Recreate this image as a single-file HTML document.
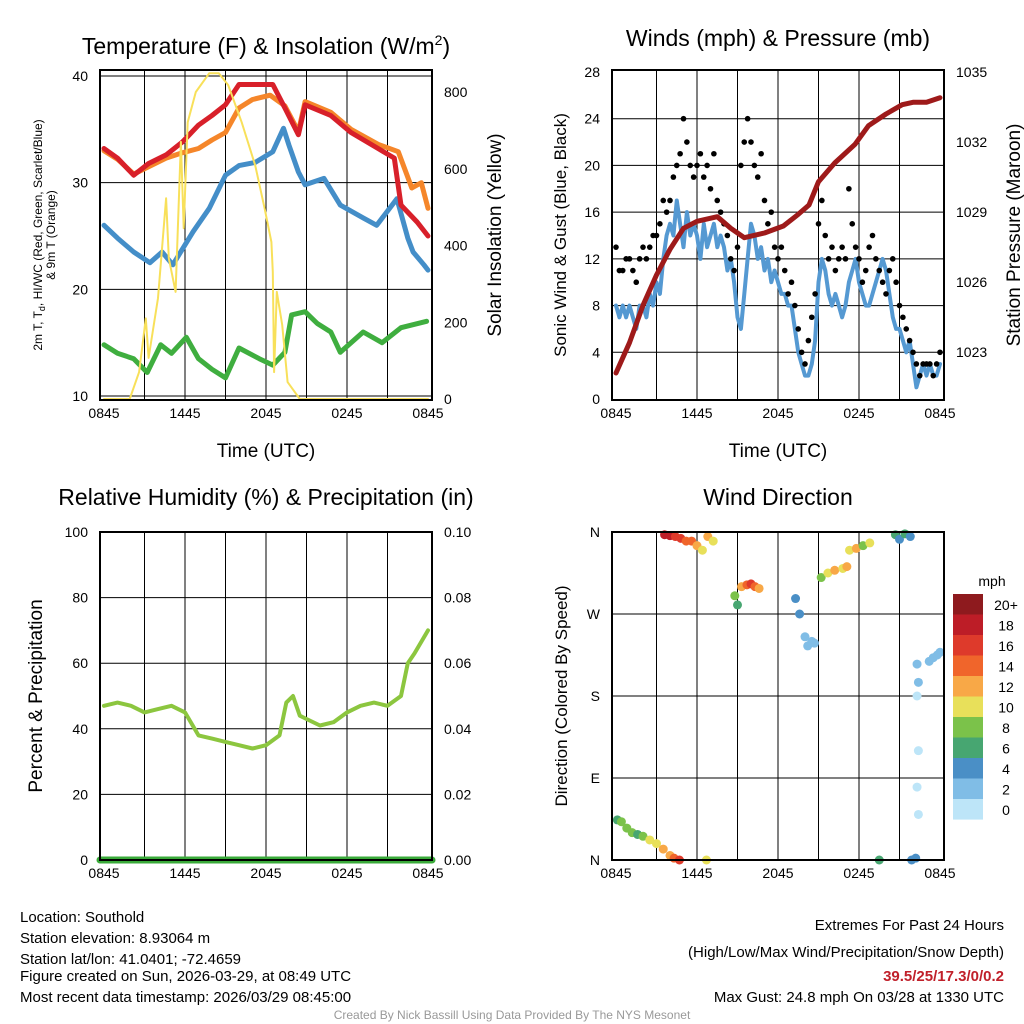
<!DOCTYPE html>
<html><head><meta charset="utf-8"><style>
body{margin:0;background:#fff;}
svg{display:block;font-family:"Liberation Sans",sans-serif;}
</style></head><body>
<svg id="c" width="1024" height="1024" viewBox="0 0 1024 1024" xmlns="http://www.w3.org/2000/svg">
<g id="txt">
<text x="266" y="54" font-size="23" text-anchor="middle">Temperature (F) &amp; Insolation (W/m<tspan font-size="14" dy="-9">2</tspan><tspan dy="9">)</tspan></text>
<text x="778" y="46" font-size="23" text-anchor="middle">Winds (mph) &amp; Pressure (mb)</text>
<text x="266" y="505" font-size="23" text-anchor="middle">Relative Humidity (%) &amp; Precipitation (in)</text>
<text x="778" y="505" font-size="23" text-anchor="middle">Wind Direction</text>
<text x="266" y="457" font-size="19" text-anchor="middle">Time (UTC)</text>
<text x="778" y="457" font-size="19" text-anchor="middle">Time (UTC)</text>
<g transform="translate(42,235) rotate(-90)"><text x="0" y="0" font-size="12" text-anchor="middle">2m T, T<tspan font-size="9" dy="3">d</tspan><tspan dy="-3">, HI/WC (Red, Green, Scarlet/Blue)</tspan></text><text x="0" y="13" font-size="12" text-anchor="middle">&amp; 9m T (Orange)</text></g>
<text transform="translate(501,235) rotate(-90)" font-size="19" text-anchor="middle">Solar Insolation (Yellow)</text>
<text transform="translate(566,235) rotate(-90)" font-size="17" text-anchor="middle">Sonic Wind &amp; Gust (Blue, Black)</text>
<text transform="translate(1020,235) rotate(-90)" font-size="19" text-anchor="middle">Station Pressure (Maroon)</text>
<text transform="translate(42,696) rotate(-90)" font-size="19" text-anchor="middle">Percent &amp; Precipitation</text>
<text transform="translate(567,696) rotate(-90)" font-size="17" text-anchor="middle">Direction (Colored By Speed)</text>
<g font-size="15">
<text x="20" y="922">Location: Southold</text>
<text x="20" y="943">Station elevation: 8.93064 m</text>
<text x="20" y="964">Station lat/lon: 41.0401; -72.4659</text>
<text x="20" y="981">Figure created on Sun, 2026-03-29, at 08:49 UTC</text>
<text x="20" y="1002">Most recent data timestamp: 2026/03/29 08:45:00</text>
</g>
<g font-size="15" text-anchor="end">
<text x="1004" y="930">Extremes For Past 24 Hours</text>
<text x="1004" y="957">(High/Low/Max Wind/Precipitation/Snow Depth)</text>
<text x="1004" y="981" fill="#c0202a" font-weight="bold">39.5/25/17.3/0/0.2</text>
<text x="1004" y="1002">Max Gust: 24.8 mph On 03/28 at 1330 UTC</text>
</g>
<text x="512" y="1019" font-size="12" fill="#999" text-anchor="middle">Created By Nick Bassill Using Data Provided By The NYS Mesonet</text>
<text x="992" y="586" font-size="14" text-anchor="middle">mph</text>
</g>
<g id="plots"></g>
</svg>
<script>
// ---------- data ----------
const xTickLabels = ["0845","1445","2045","0245","0845"];
const tRed = [0,1,2.2,3.3,4.6,5.8,7,8,9,10,11.5,12.5,13.4,14.4,14.9,16.8,18.3,20.3,21.5,22,23.2,24];
const redT = [33.2,32.3,30.7,31.8,32.6,33.8,35.4,36.3,37.3,39.2,39.2,39.2,37,34.5,37.3,36.3,34.7,33.2,32.3,27.9,26.3,25];
const tOrange = [0,1,2.2,3.3,4.6,5.8,7,8,9,10,11,12.3,13.4,14.4,14.9,16.8,18.3,20.3,21.8,22.8,23.5,24];
const orangeT = [33,32.2,30.8,31.5,32.3,32.8,33.2,34,34.7,37,37.8,38.2,37.2,34.8,37.6,36.6,35,33.6,32.9,29.5,30,27.6];
const tBlue = [0,1,2.2,3.4,4.3,5.1,6.6,7.8,9,10,11.2,12.5,13.3,13.7,14.4,14.9,16.3,17.5,19.2,20.2,21.7,22.5,22.9,23.7,24];
const blueT = [26,24.8,23.5,22.5,23.5,22.3,25.4,27.6,30.7,31.6,31.9,32.9,35.1,33.5,31,29.8,30.4,27.9,26.7,26,28.5,24.8,23.5,22.3,21.8];
const tGreen = [0,1,2.2,3.2,4.2,5,6.1,7,8,9,10,11.5,12.5,13.4,13.9,14.9,15.8,16.8,17.5,19.2,20.6,22,23.9];
const greenT = [14.8,14,13.5,12.2,14.8,14,15.5,13.5,12.5,11.7,14.5,13.5,12.9,14.1,17.6,17.9,16.8,16,14.1,16,15,16.4,17];
const tSolar = [0,1.9,2.6,3.1,3.3,4,4.6,4.8,5.3,5.7,5.9,6.2,6.8,7.8,8.5,9.2,10.2,11.2,11.9,12.4,12.5,12.6,12.8,13.2,13.6,14.5,24];
const solar = [0,0,70,210,107,263,523,367,279,670,445,721,800,849,849,818,721,609,497,409,331,70,279,193,44,0,0];
const tQuarter = [];
for(let i=0;i<=96;i++) tQuarter.push(i/4);
const wind = [8,7,8,7, 8,7,6,8, 8,7,9,8, 10,9,12,14, 15,14,17,15, 13,16,14,15, 14,12,15,13, 14,15,13,14, 13,11,12,10, 7,6,9,12, 15,14,12,13, 11,12,10,11, 10,9,9,8, 8,6,4,3, 2,2,3,5, 10,12,11,9, 8,9,8,7, 8,10,11,12, 10,9,8,8, 9,10,11,12, 11,9,7,6, 6,5,4,5, 3,1,2,3, 2,3,2,2, 3];
const gust = [13,11,11,12, 12,11,10,12, 13,12,13,14, 14,15,17,16, 17,19,20,21, 24,22,20,19, 20,21,19,20, 18,21,17,16, 15,14,12,11, 13,20,22,24, 22,20,19,21, 17,15,16,13, 12,13,11,9, 10,8,6,4, 3,5,7,9, 15,17,14,12, 13,11,12,13, 12,18,15,13, 12,10,11,13, 14,12,11,10, 9,11,12,10, 8,7,6,5, 4,3,2,3, 3,3,2,3, 4];
const tPres = [0,1,2,3,4,5,6,7.5,8.5,9.5,11,12.4,13.5,14.3,15,16.2,17.7,18.7,20,21.2,22,23,24];
const pressure = [1022.1,1023.4,1025,1026.3,1027.4,1028.3,1028.6,1028.8,1028.3,1027.9,1028.1,1028.4,1028.9,1029.3,1030.3,1031.1,1031.9,1032.7,1033.2,1033.6,1033.7,1033.7,1033.9];
const tRH = [0,1,2,3,4,5,6,7,8,9,10,11,12,13,13.5,14,14.5,15,16,17,18,19,20,21,22,22.5,23,24];
const rh = [47,48,47,45,46,47,45,38,37,36,35,34,35,38,48,50,44,43,41,42,45,47,48,47,50,60,63,70];
const precip = [0,0];
const tDir = [0.1,0.4,0.8,1.2,1.6,2,2.5,3,3.5,4,4.3,4.7, 3.6,4,4.4,4.8,5.2,5.6,6,6.4,6.8,7.2,6.7, 8.8,9,9.3,9.7,10,10.3,10.6, 13.3,13.6,14,14.2,14.5,14.7, 15.2,15.7,16.2,16.8,17.1, 17.3,17.8,18.3,18.8,19.5, 20.7,21,21.4,21.8,21.9, 22.3,22.4,22.3,22.4,22.3,22.4,22.2, 23.2,23.5,23.8,24];
const dirDeg = [44,42,35,30,28,26,22,18,12,5,2,0, 357,356,355,353,350,350,345,340,355,350,0, 290,280,300,302,303,300,298, 287,270,245,235,240,238, 310,315,318,320,322, 340,342,345,348,0, 357,352,358,355,0, 215,195,180,120,80,50,2, 218,222,225,228];
const dirSpd = [6,8,8,8,6,8,10,10,12,12,14,16, 18,18,16,16,14,14,12,10,12,10,10, 8,6,12,14,16,14,12, 4,4,2,2,2,2, 8,10,12,10,12, 10,12,8,10,6, 6,4,6,4,4, 2,2,0,0,0,0,4, 2,2,2,2];
const cbLabels = ["20+","18","16","14","12","10","8","6","4","2","0"];
const cbColors = ["#8e1a1e","#bd1d27","#de3a2b","#f0652b","#f8a847","#e8e05a","#7bc24a","#47a671","#4a8fc6","#80bde6","#bde5f8"];

// ---------- helpers ----------
const NS="http://www.w3.org/2000/svg";
const root=document.getElementById('plots');
function mk(tag,attrs,parent){const e=document.createElementNS(NS,tag);for(const k in attrs)e.setAttribute(k,attrs[k]);(parent||root).appendChild(e);return e;}
function panel(x0,y0,x1,y1,name){
  const g=mk('g',{});
  
  
  const X=t=>x0+4+t*(x1-x0-8)/24;
  for(let i=1;i<8;i++){const l=mk('line',{x1:X(i*3),x2:X(i*3),y1:y0,y2:y1,stroke:'#000','stroke-width':1},g);
    }
  xTickLabels.forEach((s,i)=>{const t=mk('text',{x:X(i*6),y:y1+18,'font-size':14,'text-anchor':'middle'},g);t.textContent=s;
    });
  return {g,X};
}
function hgrid(g,x0,x1,y){const l=mk('line',{x1:x0,x2:x1,y1:y,y2:y,stroke:'#000','stroke-width':1},g);
  }
function lbl(g,x,y,s,anchor,name){const t=mk('text',{x:x,y:y+5,'font-size':14,'text-anchor':anchor},g);t.textContent=s;
  }
function line(g,ts,vs,X,Y,color,w,name){const d=ts.map((t,i)=>(i?'L':'M')+X(t).toFixed(1)+','+Y(vs[i]).toFixed(1)).join('');
  const p=mk('path',{d:d,fill:'none',stroke:color,'stroke-width':w,'stroke-linejoin':'round','stroke-linecap':'round'},g);
  }
function box(g,x0,y0,x1,y1){const r=mk('rect',{x:x0,y:y0,width:x1-x0,height:y1-y0,fill:'none',stroke:'#000','stroke-width':2},g);
  }

// ---------- panel 1: temperature ----------
(function(){
  const x0=100,x1=432,y0=70,y1=400;
  const {g,X}=panel(x0,y0,x1,y1,'temperature-panel');
  const Y=v=>396-(v-10)*(320/30);
  const Ys=v=>399-v*(307/800);
  [10,20,30,40].forEach(v=>{hgrid(g,x0,x1,Y(v));lbl(g,x0-12,Y(v),String(v),'end','temp-y-tick');});
  [0,200,400,600,800].forEach(v=>lbl(g,x1+12,Ys(v),String(v),'start','solar-y-tick'));
  line(g,tGreen,greenT,X,Y,'#3fae3f',5,'dewpoint-line');
  line(g,tBlue,blueT,X,Y,'#448ec8',5,'wetbulb-line');
  line(g,tOrange,orangeT,X,Y,'#f5862a',5,'temp-9m-line');
  line(g,tRed,redT,X,Y,'#d8202a',5,'temp-2m-line');
  line(g,tSolar,solar,X,Ys,'#f8e05a',2,'solar-line');
  box(g,x0,y0,x1,y1);
})();

// ---------- panel 2: winds ----------
(function(){
  const x0=612,x1=944,y0=70,y1=400;
  const {g,X}=panel(x0,y0,x1,y1,'wind-panel');
  const Y=v=>399-v*(327/28);
  const Yp=v=>352-(v-1023)*(280/12);
  [0,4,8,12,16,20,24,28].forEach(v=>{if(v>0&&v<28)hgrid(g,x0,x1,Y(v));lbl(g,x0-12,Y(v),String(v),'end','wind-y-tick');});
  [1023,1026,1029,1032,1035].forEach(v=>lbl(g,x1+12,Yp(v),String(v),'start','pressure-y-tick'));
  line(g,tQuarter,wind,X,Y,'#5599d2',4,'sonic-wind-line');
  tQuarter.forEach((t,i)=>{const c=mk('circle',{cx:X(t),cy:Y(gust[i]),r:2.8,fill:'#000'},g);
    });
  line(g,tPres,pressure,X,Yp,'#9e1a1a',5,'pressure-line');
  box(g,x0,y0,x1,y1);
})();

// ---------- panel 3: RH ----------
(function(){
  const x0=100,x1=432,y0=532,y1=860;
  const {g,X}=panel(x0,y0,x1,y1,'humidity-panel');
  const Y=v=>860-v*3.28;
  const Yp=v=>860-v*3280;
  [0,20,40,60,80,100].forEach(v=>{if(v>0&&v<100)hgrid(g,x0,x1,Y(v));lbl(g,x0-12,Y(v),String(v),'end','rh-y-tick');});
  [0,0.02,0.04,0.06,0.08,0.10].forEach(v=>lbl(g,x1+12,Yp(v),v.toFixed(2),'start','precip-y-tick'));
  line(g,[0,24],precip,t=>t===0?x0:x1,Yp,'#3aaa3a',7,'precip-line');
  line(g,tRH,rh,X,Y,'#8cc63f',4,'rh-line');
  box(g,x0,y0,x1,y1);
})();

// ---------- panel 4: wind direction ----------
(function(){
  const x0=612,x1=944,y0=532,y1=860;
  const {g,X}=panel(x0,y0,x1,y1,'direction-panel');
  const Y=v=>860-v*(328/360);
  [['N',0],['E',90],['S',180],['W',270],['N',360]].forEach(([s,v])=>{if(v>0&&v<360)hgrid(g,x0,x1,Y(v));lbl(g,x0-12,Y(v),s,'end','dir-y-tick');});
  const col=s=>cbColors[10-Math.min(10,Math.floor(s/2))];
  tDir.forEach((t,i)=>{const c=mk('circle',{cx:X(t),cy:Y(dirDeg[i]),r:4.5,fill:col(dirSpd[i])},g);
    });
  box(g,x0,y0,x1,y1);
  const cb=mk('g',{});
  
  
  cbColors.forEach((c,i)=>{const r=mk('rect',{x:953,y:594+i*20.5,width:30,height:20.6,fill:c},cb);
    
    const t=mk('text',{x:1006,y:594+i*20.5+16,'font-size':14,'text-anchor':'middle'},cb);t.textContent=cbLabels[i];
    });
})();
</script>
</body></html>
